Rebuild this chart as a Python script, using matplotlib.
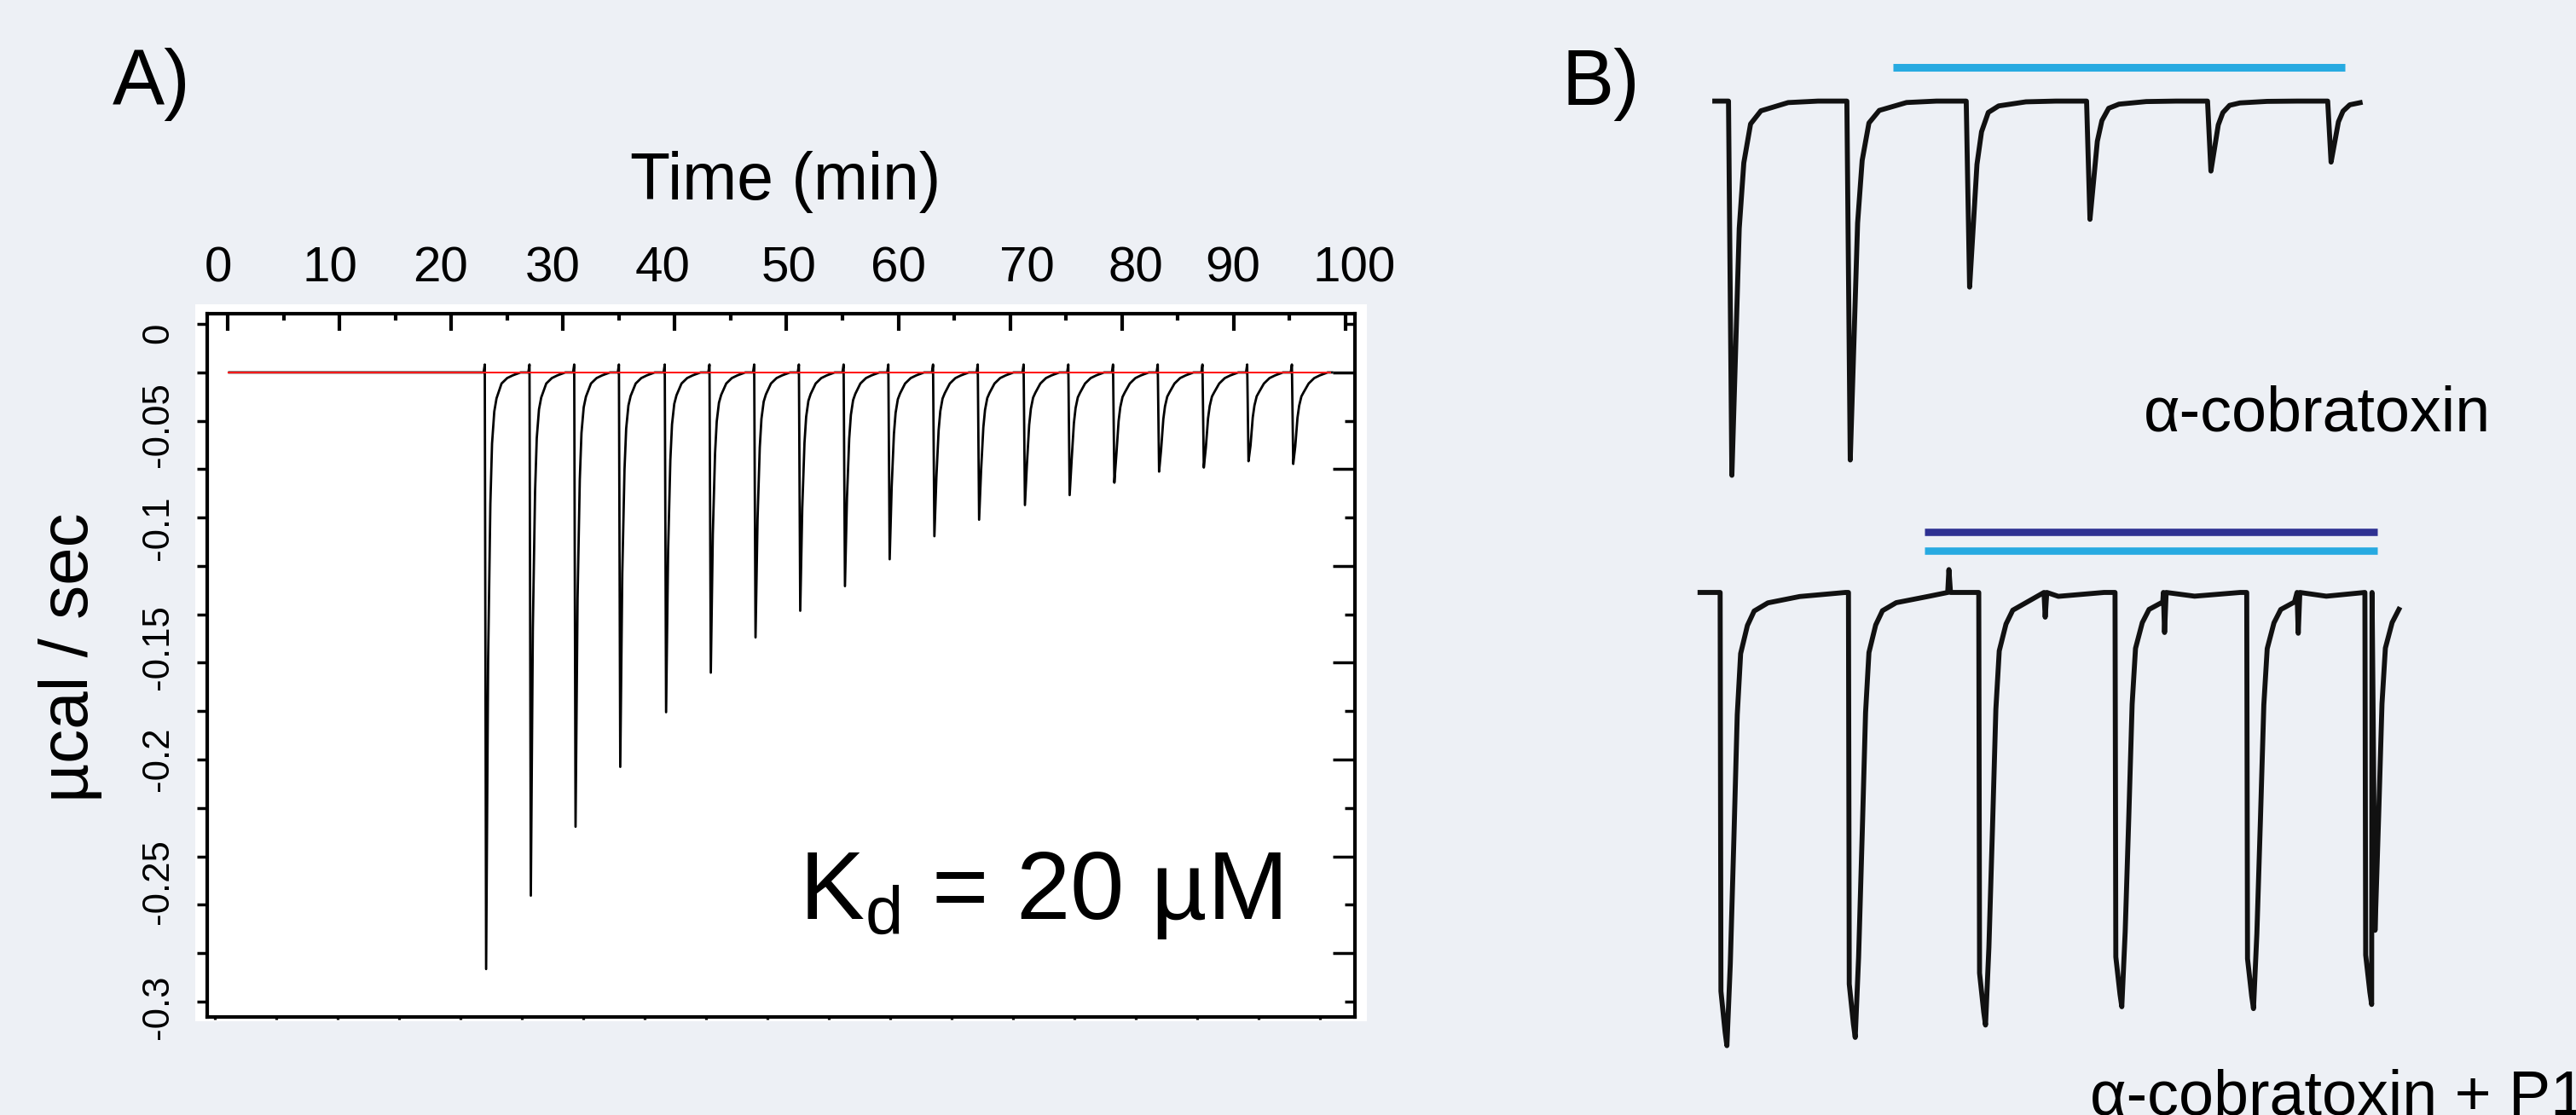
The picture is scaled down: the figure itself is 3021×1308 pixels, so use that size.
import numpy as np
import matplotlib
matplotlib.use('Agg')
import matplotlib.pyplot as plt
from matplotlib.patches import Rectangle

plt.rcParams['font.family'] = ['Liberation Sans', 'DejaVu Sans']
plt.rcParams['mathtext.fontset'] = 'custom'
plt.rcParams['mathtext.rm'] = 'Liberation Sans'
plt.rcParams['mathtext.it'] = 'Liberation Sans'

W, H = 3021, 1308
bg = '#edf0f5'
cyan = '#27aae1'
navy = '#2e3192'

# ---- panel A: ITC titration, time in min, heat rate in ucal/s ----
itc_baseline = -0.0215
itc_span = [0.15, 98.8]
fit_span = [0.1, 98.6]
inj_time = [23.0, 27.0, 31.0, 35.0, 39.1, 43.1, 47.1, 51.1, 55.1, 59.1,
            63.1, 67.1, 71.2, 75.2, 79.2, 83.2, 87.2, 91.2, 95.2]
inj_peak = [-0.2856, -0.2531, -0.2226, -0.1961, -0.1719, -0.1544, -0.1388,
            -0.1270, -0.1161, -0.1042, -0.0940, -0.0867, -0.0802, -0.0758,
            -0.0703, -0.0654, -0.0636, -0.0608, -0.0620]
# one injection: min after injection,
# share of the peak depth, slow tail (ucal/s)
shape_dt = [-0.1, 0.0, 0.12, 0.3, 0.5, 0.65, 0.85, 1.05, 1.5, 2.0, 2.5, 3.2]
shape_fast = [0, 0, 1.0, 0.42, 0.17, 0.075, 0.03, 0.012, 0, 0, 0, 0]
shape_tail = [0, -0.0035, 0, 0.0158, 0.0132, 0.0117, 0.0094, 0.0083,
              0.0049, 0.0025, 0.0013, 0]

time_ticks = [0, 10, 20, 30, 40, 50, 60, 70, 80, 90, 100]
time_minor = [5, 15, 25, 35, 45, 55, 65, 75, 85, 95]
time_label_pos = [-0.84, 9.15, 19.0, 29.1, 38.9, 50.2, 60.0, 71.5, 81.2, 89.9, 100.8]
time_labels = ['0', '10', '20', '30', '40', '50', '60', '70', '80', '90', '100']
bottom_ticks = [-1.14, 4.35, 9.84, 15.33, 20.82, 26.32, 31.81, 37.30, 42.79,
                48.28, 53.78, 59.27, 64.76, 70.25, 75.74, 81.24, 86.73, 92.22, 97.71]
rate_ticks = [0, -0.0214, -0.0429, -0.0643, -0.0857, -0.1071, -0.1286, -0.15,
              -0.1714, -0.1929, -0.2143, -0.2357, -0.2571, -0.2786, -0.3]
rate_label_pos = [-0.0042, -0.0445, -0.0902, -0.143, -0.1925, -0.2468, -0.3023]
rate_labels = ['0', '-0.05', '-0.1', '-0.15', '-0.2', '-0.25', '-0.3']

# ---- panel B: current traces, time in s, current relative to first response ----
ctx_t = [15.9, 75.4, 135.4, 195.9, 256.7, 317.1]
ctx_amp = [1.0, 0.959, 0.497, 0.316, 0.187, 0.163]
ctx_span = [9.0, 333.9]
ctx_bar = [98.6, 325.8]
ctx_shape_dt = [0, 1.7, 3.5, 5.4, 7.7, 11.1, 16.3, 30, 45]
ctx_shape = [0, 1.0, 0.68, 0.34, 0.165, 0.061, 0.026, 0.004, 0]

p1_t = [11.7, 76.2, 141.7, 210.2, 276.4, 335.8]
p1_amp = [1.211, 1.189, 1.156, 1.107, 1.112, 1.101]
p1_span = [1.6, 353.0]
p1_bar = [114.4, 342.0]
p1_shape_dt = [0, 0.4, 2.5, 3.4, 5.1, 6.9, 8.6, 10.3, 13.7, 17.1, 24, 40, 63]
p1_shape = [0, 0.88, 0.97, 1.0, 0.82, 0.545, 0.27, 0.135, 0.073, 0.041, 0.023, 0.009, 0]
p1_blip_t = [126.1, 174.5, 234.5, 301.7]
p1_blip_amp = [-0.061, 0.066, 0.107, 0.109]
blip_dt = [0, 0.6, 1.4]
blip_shape = [0, 1, 0]


def fx(px):
    return px / W


def fy(py):
    return 1 - py / H


fig = plt.figure(figsize=(W / 100, H / 100), dpi=100, facecolor=bg)

# white card behind panel A
fig.patches.append(Rectangle((fx(229), fy(1198)), (1603 - 229) / W, (1198 - 357) / H,
                             transform=fig.transFigure, facecolor='white',
                             edgecolor='none', zorder=-5))

ax = fig.add_axes([fx(243), fy(1193), (1589 - 243) / W, (1193 - 368) / H])
ax.set_zorder(2)
ax.set_facecolor('white')
ax.set_xlim(-1.83, 100.84)
ax.set_ylim(-0.3068, 0.0045)

t, y = [itc_span[0]], [itc_baseline]
for t0, peak in zip(inj_time, inj_peak):
    depth = itc_baseline - peak
    for dt, f, tail in zip(shape_dt, shape_fast, shape_tail):
        t.append(t0 + dt)
        y.append(itc_baseline - depth * f - tail)
t.append(itc_span[1])
y.append(itc_baseline)
ax.plot(t, y, color='black', lw=2.0, zorder=3)
ax.plot(fit_span, [itc_baseline, itc_baseline], color='#ff1a1a', lw=1.5, zorder=4)

for s in ax.spines.values():
    s.set_linewidth(3)

ax.xaxis.set_ticks_position('top')
ax.set_xticks(time_ticks)
ax.set_xticks(time_minor, minor=True)
ax.tick_params(axis='x', which='both', direction='in', width=3,
               labeltop=False, labelbottom=False)
ax.tick_params(axis='x', which='major', length=14.4)
ax.tick_params(axis='x', which='minor', length=5.8)
ax.yaxis.set_ticks_position('left')
ax.set_yticks(rate_ticks)
ax.tick_params(axis='y', which='major', direction='out', length=8.6, width=2.5,
               labelleft=False)

right = ax.secondary_yaxis('right')
right.set_yticks(rate_ticks[1::2])
right.set_yticks(rate_ticks[0::2], minor=True)
right.tick_params(which='major', direction='in', length=18.7, width=2.5, labelright=False)
right.tick_params(which='minor', direction='in', length=9, width=2.5)
right.spines['right'].set_visible(False)

bot = ax.secondary_xaxis('bottom')
bot.set_xticks(bottom_ticks)
bot.tick_params(direction='out', length=2.5, width=2.3, labelbottom=False)
bot.spines['bottom'].set_visible(False)

top = ax.secondary_xaxis('top')
top.set_xticks(time_label_pos, time_labels)
top.tick_params(length=0, pad=18.5, labelsize=42)
top.spines['top'].set_visible(False)

left = ax.secondary_yaxis('left')
left.set_yticks(rate_label_pos, rate_labels)
left.tick_params(length=0, pad=26.6, labelsize=31.5, labelrotation=90)
for lab in left.get_yticklabels():
    lab.set_va('center')
left.spines['left'].set_visible(False)

fig.text(fx(921), fy(234), 'Time (min)', fontsize=55.4, ha='center', va='baseline')
fig.text(fx(82), fy(771), 'µcal / sec', fontsize=57.6, rotation=90,
         ha='center', va='center')
ax.text(0.5156, 0.1400, r'K$_\mathrm{d}$ = 20 µM', fontsize=82, transform=ax.transAxes,
        ha='left', va='baseline', zorder=5)
fig.text(fx(132), fy(123), 'A)', fontsize=66, ha='left', va='baseline')
fig.text(fx(1831), fy(123), 'B)', fontsize=66, ha='left', va='baseline')

# ---- panel B ----
axb = fig.add_axes([fx(1990), fy(1260), 900 / W, 1220 / H])
axb.set_xlim(0, 900 / 2.333)
axb.set_ylim(-2.600, 0.179)
axb.axis('off')


def trace(times, amps, span, sdt, shape):
    tt, yy = [span[0]], [0.0]
    for t0, a in zip(times, amps):
        for dt, f in zip(sdt, shape):
            if t0 + dt <= span[1]:
                tt.append(t0 + dt)
                yy.append(-a * f)
    return np.array(tt), np.array(yy)


t1, y1 = trace(ctx_t, ctx_amp, ctx_span, ctx_shape_dt, ctx_shape)
axb.plot(t1, y1, color='#111111', lw=4.2)

t2, y2 = trace(p1_t, p1_amp, p1_span, p1_shape_dt, p1_shape)
bt, by = [], []
for t0, a in zip(p1_blip_t, p1_blip_amp):
    for dt, f in zip(blip_dt, blip_shape):
        bt.append(t0 + dt)
        by.append(-a * f)
t2 = np.concatenate([t2, bt])
y2 = np.concatenate([y2, by])
order = np.argsort(t2, kind='stable')
offset = -1.313
axb.plot(t2[order], y2[order] + offset, color='#111111', lw=4.2)

axb.plot(ctx_bar, [0.0913, 0.0913], color=cyan, lw=6.5, solid_capstyle='butt')
axb.plot(p1_bar, [-1.151, -1.151], color=navy, lw=6.2, solid_capstyle='butt')
axb.plot(p1_bar, [-1.201, -1.201], color=cyan, lw=6.2, solid_capstyle='butt')

fig.text(fx(2514), fy(505), 'α-cobratoxin', fontsize=53, ha='left', va='baseline')
fig.text(fx(2451), fy(1308), 'α-cobratoxin + P1', fontsize=53, ha='left', va='baseline')

fig.savefig('out.png', dpi=100, facecolor=fig.get_facecolor())
